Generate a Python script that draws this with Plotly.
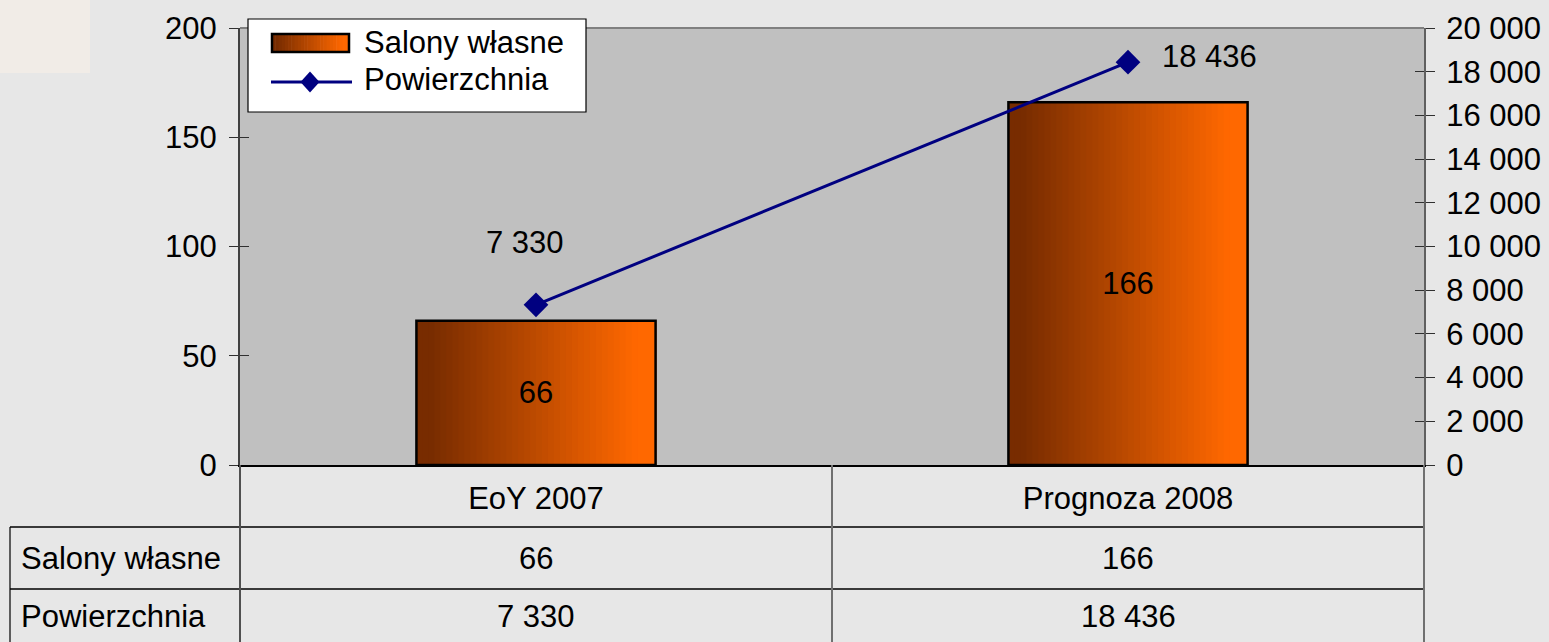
import plotly.graph_objects as go

# ---- data ----
categories = ["EoY 2007", "Prognoza 2008"]
salony = [66, 166]
powierzchnia = [7330, 18436]
row_labels = ["Salony własne", "Powierzchnia"]
left_ticks = [0, 50, 100, 150, 200]
right_ticks = [0, 2000, 4000, 6000, 8000, 10000, 12000, 14000, 16000, 18000, 20000]

W, H = 1549, 642
PL, PR, PT, PB = 240, 1424, 28, 465
FONT = "Liberation Sans, Arial, sans-serif"
FS = 31


def px(x):
    return (x - PL) / (PR - PL)


def py(y):
    return (PB - y) / (PB - PT)


def fmt(v):
    return f"{v:,}".replace(",", " ")


def grad(t):
    a, b = (120, 44, 0), (255, 104, 0)
    t = min(max((t - 0.06) / 0.86, 0), 1)
    return "rgb(%d,%d,%d)" % tuple(round(a[k] + (b[k] - a[k]) * t) for k in range(3))


txtfont = dict(family=FONT, size=FS, color="black")
fig = go.Figure()

N = 40
BW = 0.404
sw = BW / N
for i in range(N):
    fig.add_trace(go.Bar(
        x=categories, y=salony, width=sw * 1.15, offset=-BW / 2 + i * sw,
        marker=dict(color=grad((i + 0.5) / N), line=dict(width=0)),
        showlegend=False, hoverinfo="skip"))

fig.add_trace(go.Bar(
    x=categories, y=salony, width=BW, offset=-BW / 2, name=row_labels[0],
    marker=dict(color="rgba(0,0,0,0)", line=dict(color="black", width=2.5)),
    text=[str(v) for v in salony], textposition="inside", insidetextanchor="middle",
    textangle=0, textfont=txtfont, showlegend=False))

fig.add_trace(go.Scatter(
    x=categories, y=powierzchnia, yaxis="y2", mode="lines+markers", name=row_labels[1],
    line=dict(color="#000080", width=3),
    marker=dict(symbol="diamond", size=19, color="#000080"),
    showlegend=False))

# invisible traces so the cross-tick helper axes get drawn
fig.add_trace(go.Scatter(x=categories, y=salony, yaxis="y3", mode="none", showlegend=False, hoverinfo="skip"))
fig.add_trace(go.Scatter(x=categories, y=powierzchnia, yaxis="y4", mode="none", showlegend=False, hoverinfo="skip"))

annotations = []
# line data labels
annotations.append(dict(x=categories[0], y=powierzchnia[0], xref="x", yref="y2",
                        text=fmt(powierzchnia[0]), showarrow=False, xshift=-11, yshift=62,
                        xanchor="center", yanchor="middle", font=txtfont))
annotations.append(dict(x=categories[1], y=powierzchnia[1], xref="x", yref="y2",
                        text=fmt(powierzchnia[1]), showarrow=False, xshift=81, yshift=6,
                        xanchor="center", yanchor="middle", font=txtfont))

# data table
row_y = [558, 616]
for r, vals in enumerate([salony, powierzchnia]):
    annotations.append(dict(x=px(19), y=py(row_y[r]), xref="paper", yref="paper",
                            text=row_labels[r], showarrow=False, xanchor="left", yanchor="middle",
                            font=txtfont))
    for c, v in zip(categories, vals):
        annotations.append(dict(x=c, y=py(row_y[r]), xref="x", yref="paper",
                                text=fmt(v), showarrow=False, xanchor="center", yanchor="middle",
                                font=txtfont))

# legend
LX0, LY0, LX1, LY1 = 248, 19, 586, 112
annotations.append(dict(x=px(362), y=py(42), xref="paper", yref="paper", text=row_labels[0],
                        showarrow=False, xanchor="left", yanchor="middle", font=txtfont))
annotations.append(dict(x=px(362), y=py(80), xref="paper", yref="paper", text=row_labels[1],
                        showarrow=False, xanchor="left", yanchor="middle", font=txtfont))

shapes = []
# top-left background patch
shapes.append(dict(type="rect", xref="paper", yref="paper", x0=px(0), x1=px(90), y0=py(0), y1=py(73),
                   fillcolor="#F1ECE7", line=dict(width=0), layer="below"))
# plot top border
shapes.append(dict(type="line", xref="paper", yref="paper", x0=0, x1=1, y0=1, y1=1,
                   line=dict(color="#808080", width=2)))
# legend box
shapes.append(dict(type="rect", xref="paper", yref="paper", x0=px(LX0), x1=px(LX1), y0=py(LY0), y1=py(LY1),
                   fillcolor="white", line=dict(color="black", width=1.2)))
NS = 24
sx0, sx1, sy0, sy1 = 272, 349, 34, 52
for i in range(NS):
    a = sx0 + (sx1 - sx0) * i / NS
    b = sx0 + (sx1 - sx0) * (i + 1) / NS + 0.6
    shapes.append(dict(type="rect", xref="paper", yref="paper", x0=px(a), x1=px(b), y0=py(sy0), y1=py(sy1),
                       fillcolor=grad((i + 0.5) / NS), line=dict(width=0)))
shapes.append(dict(type="rect", xref="paper", yref="paper", x0=px(sx0), x1=px(sx1), y0=py(sy0), y1=py(sy1),
                   line=dict(color="black", width=2.5)))
shapes.append(dict(type="line", xref="paper", yref="paper", x0=px(271), x1=px(352), y0=py(82), y1=py(82),
                   line=dict(color="#000080", width=3)))
dx, dy = 9.5, 10.5
shapes.append(dict(type="path", xref="paper", yref="paper",
                   path="M %f %f L %f %f L %f %f L %f %f Z" % (px(310), py(82 - dy), px(310 + dx), py(82),
                                                              px(310), py(82 + dy), px(310 - dx), py(82)),
                   fillcolor="#000080", line=dict(width=0)))

# table lines
for yy in [527, 589]:
    shapes.append(dict(type="line", xref="paper", yref="paper", x0=px(10), x1=1, y0=py(yy), y1=py(yy),
                       line=dict(color="black", width=1.5)))
for xx, ytop, col in [(px(10), 527, "black"), (0, 465, "#505050"), (0.5, 465, "#707070"), (1, 465, "#707070")]:
    shapes.append(dict(type="line", xref="paper", yref="paper", x0=xx, x1=xx, y0=py(ytop), y1=py(H + 2),
                       line=dict(color=col, width=2 if col != "black" else 1.2)))

tickfont = txtfont
fig.update_layout(
    width=W, height=H,
    margin=dict(l=PL, r=W - PR, t=PT, b=H - PB, autoexpand=False),
    paper_bgcolor="#E7E7E7", plot_bgcolor="#C0C0C0",
    barmode="overlay", showlegend=False, separators=", ",
    font=dict(family=FONT, size=FS, color="black"),
    xaxis=dict(type="category", range=[-0.5, 1.5], showline=True, linecolor="black", linewidth=1.5,
               ticks="", showgrid=False, tickfont=tickfont, ticklabelstandoff=5, automargin=False),
    yaxis=dict(range=[0, 200], tickvals=left_ticks, showline=True, linecolor="#404040", linewidth=2,
               ticks="outside", ticklen=9, tickcolor="#303030", tickwidth=1.2, showgrid=False,
               zeroline=False, tickfont=tickfont, ticklabelstandoff=6, automargin=False),
    yaxis2=dict(range=[0, 20000], tickvals=right_ticks, overlaying="y", side="right", showline=True,
                linecolor="#606060", linewidth=2, ticks="outside", ticklen=9, tickcolor="#303030",
                tickwidth=1.2, showgrid=False, zeroline=False, tickformat=",d", tickfont=tickfont,
                ticklabelstandoff=5, automargin=False),
    yaxis3=dict(range=[0, 200], tickvals=left_ticks, overlaying="y", side="left", ticks="inside",
                ticklen=9, tickcolor="#303030", tickwidth=1.2, showticklabels=False, showgrid=False,
                zeroline=False, showline=False, automargin=False),
    yaxis4=dict(range=[0, 20000], tickvals=right_ticks, overlaying="y", side="right", ticks="inside",
                ticklen=9, tickcolor="#303030", tickwidth=1.2, showticklabels=False, showgrid=False,
                zeroline=False, showline=False, automargin=False),
    annotations=annotations, shapes=shapes,
)

fig.write_html("out.html", config={"displayModeBar": False},
               post_script="document.body.style.margin='0';document.body.style.background='#E7E7E7';")
